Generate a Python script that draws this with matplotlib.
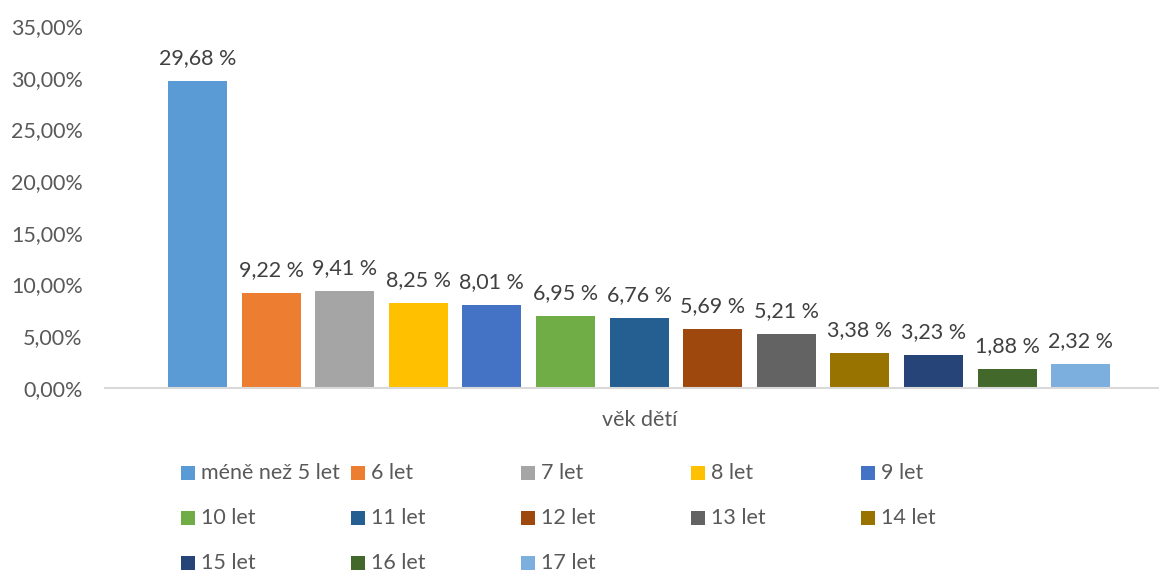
import matplotlib
matplotlib.use('Agg')
import matplotlib.pyplot as plt
import numpy as np
from matplotlib.patches import Rectangle

categories = ['méně než 5 let', '6 let', '7 let', '8 let', '9 let', '10 let', '11 let',
              '12 let', '13 let', '14 let', '15 let', '16 let', '17 let']
values = [29.68, 9.22, 9.41, 8.25, 8.01, 6.95, 6.76, 5.69, 5.21, 3.38, 3.23, 1.88, 2.32]
colors = ['#5B9BD5', '#ED7D31', '#A5A5A5', '#FFC000', '#4472C4', '#70AD47', '#255E91',
          '#9E480E', '#636363', '#997300', '#264478', '#43682B', '#7CAFDD']
y_ticks = [0, 5, 10, 15, 20, 25, 30, 35]
x_title = 'věk dětí'

plt.rcParams['font.family'] = ['Lato', 'DejaVu Sans']
TXT = '#595959'
FS = 15.5

W, H = 1159, 572
fig = plt.figure(figsize=(W / 100, H / 100), dpi=100)

# axes area in pixels: x 105..1158, y 26..388 (0% at 388, 35% at ~26)
left, right, top, bottom = 105, 1158, 26, 388
ax = fig.add_axes([left / W, 1 - bottom / H, (right - left) / W, (bottom - top) / H])

x = np.arange(len(values))
ax.bar(x, values, width=0.8, color=colors)

# first bar centre at px 197.5, step 73.6 px
step = 73.6
ax.set_xlim((left - 197.5) / step, (right - 197.5) / step)
ax.set_ylim(0, 35)

for xi, v in zip(x, values):
    ax.annotate(f'{v:.2f} %'.replace('.', ','), (xi, v), xytext=(0, 12),
                textcoords='offset points', ha='center', va='baseline',
                fontsize=FS, color='#404040')

ax.set_yticks(y_ticks)
ax.set_yticklabels([f'{t:.2f}%'.replace('.', ',') for t in y_ticks])
ax.tick_params(axis='y', length=0, pad=16, labelsize=FS, labelcolor=TXT)
ax.set_xticks([])
for s in ['top', 'right', 'left']:
    ax.spines[s].set_visible(False)
ax.spines['bottom'].set_color('#D9D9D9')
ax.spines['bottom'].set_linewidth(1.5)

fig.text(640 / W, 1 - 420 / H, x_title, ha='center', va='center', fontsize=FS, color=TXT)

# legend laid out like Excel: 5 columns of equal width
for i, (lab, c) in enumerate(zip(categories, colors)):
    row, col = divmod(i, 5)
    px = 181 + col * 170
    py = 473 + row * 45
    fig.patches.append(Rectangle((px / W, 1 - (py + 7) / H), 14 / W, 14 / H,
                                 transform=fig.transFigure, facecolor=c, edgecolor='none'))
    fig.text((px + 20) / W, 1 - py / H, lab, ha='left', va='center', fontsize=FS, color=TXT)

fig.savefig('out.png', dpi=100)
